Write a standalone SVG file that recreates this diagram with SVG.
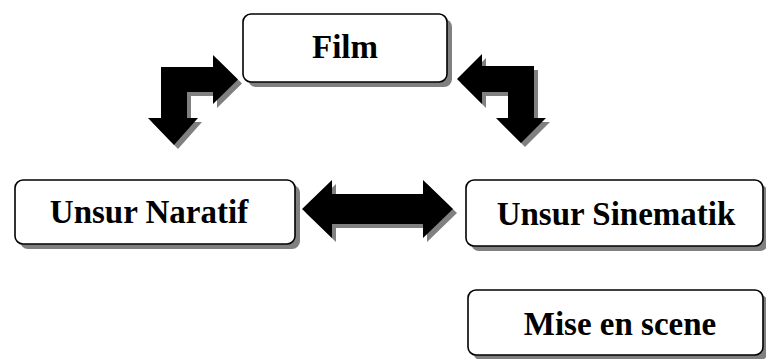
<svg xmlns="http://www.w3.org/2000/svg" width="766" height="359" viewBox="0 0 766 359">
<style>
.shadow{fill:#808080;stroke:none}
.box{fill:#ffffff;stroke:#000000;stroke-width:1.6}
.lbl{font-family:"Liberation Serif","Times New Roman",serif;font-weight:bold;font-size:33px;fill:#000000;text-anchor:middle}
.arr{fill:#000000;stroke:none}
.arrs{fill:#808080;stroke:none}
</style>
<rect width="766" height="359" fill="#ffffff"/>
<g id="connectors">
  <g id="arrow-left-bent">
    <path class="arrs" transform="translate(4,4)" d="M161,67 L213,67 L213,55 L238,79.5 L213,104 L213,92 L187,92 L187,118 L198,118 L174,145 L148,118 L161,118 Z"/>
    <path class="arr" d="M161,67 L213,67 L213,55 L238,79.5 L213,104 L213,92 L187,92 L187,118 L198,118 L174,145 L148,118 L161,118 Z"/>
  </g>
  <g id="arrow-right-bent">
    <path class="arrs" transform="translate(4,4)" d="M534,66 L482,66 L482,54 L457,79 L482,104 L482,92 L508,92 L508,118 L496,118 L521,143 L546,118 L534,118 Z"/>
    <path class="arr" d="M534,66 L482,66 L482,54 L457,79 L482,104 L482,92 L508,92 L508,118 L496,118 L521,143 L546,118 L534,118 Z"/>
  </g>
  <g id="arrow-double">
    <path class="arrs" transform="translate(4,4)" d="M302,209 L332,180 L332,194 L423,194 L423,180 L453,209 L423,238 L423,224 L332,224 L332,238 Z"/>
    <path class="arr" d="M302,209 L332,180 L332,194 L423,194 L423,180 L453,209 L423,238 L423,224 L332,224 L332,238 Z"/>
  </g>
</g>
<g id="node-film">
  <rect class="shadow" x="248" y="19" width="204" height="68" rx="8"/>
  <rect class="box" x="243" y="14" width="204" height="68" rx="8"/>
  <text class="lbl" x="345" y="58">Film</text>
</g>
<g id="node-naratif">
  <rect class="shadow" x="20" y="185" width="280" height="64" rx="8"/>
  <rect class="box" x="15" y="180" width="280" height="64" rx="8"/>
  <text class="lbl" x="149" y="223">Unsur Naratif</text>
</g>
<g id="node-sinematik">
  <rect class="shadow" x="471" y="185" width="297" height="66" rx="8"/>
  <rect class="box" x="466" y="180" width="297" height="66" rx="8"/>
  <text class="lbl" x="616" y="225">Unsur Sinematik</text>
</g>
<g id="node-mise">
  <rect class="shadow" x="473" y="295" width="295" height="65" rx="8"/>
  <rect class="box" x="468" y="290" width="295" height="65" rx="8"/>
  <text class="lbl" x="620" y="335">Mise en scene</text>
</g>
</svg>
